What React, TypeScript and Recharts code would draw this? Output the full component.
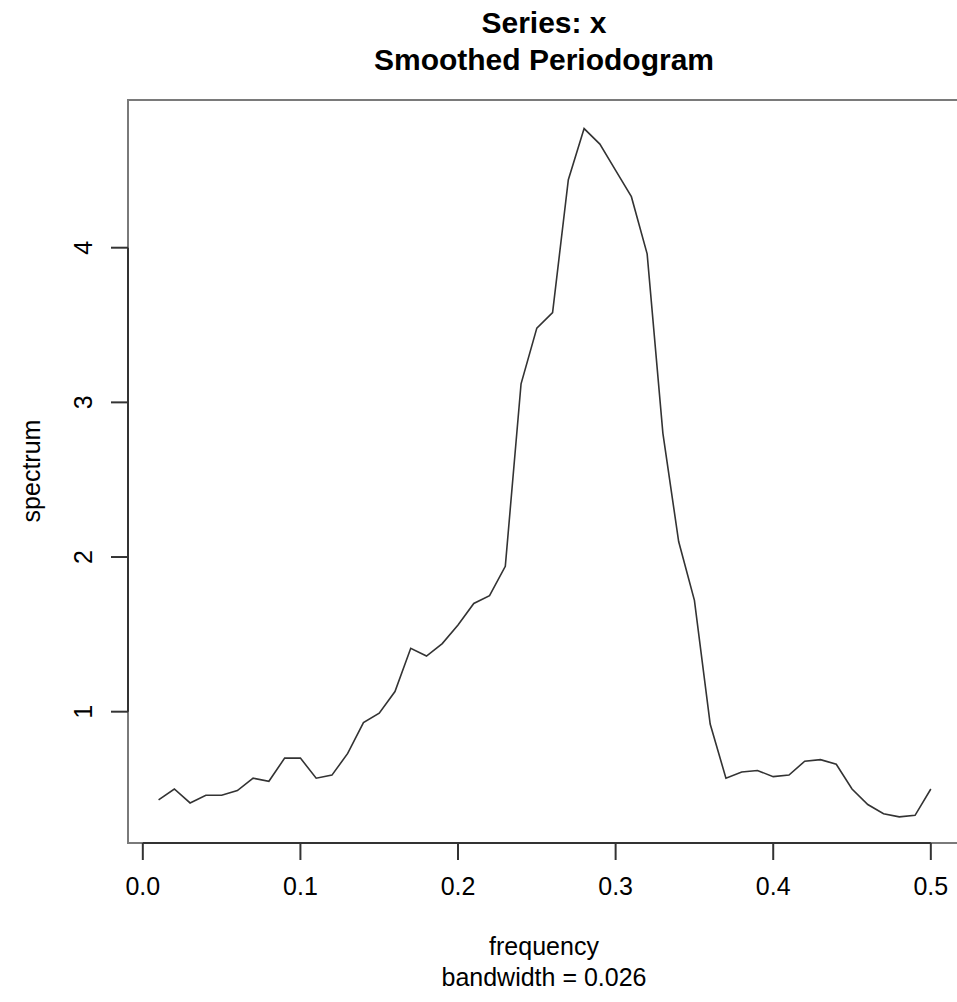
import React from 'react';
import {
  LineChart,
  Line,
  XAxis,
  YAxis,
  ReferenceArea,
  ReferenceLine,
} from 'recharts';

// smoothed periodogram values
const frequency = [
  0.01, 0.02, 0.03, 0.04, 0.05, 0.06, 0.07, 0.08, 0.09, 0.1,
  0.11, 0.12, 0.13, 0.14, 0.15, 0.16, 0.17, 0.18, 0.19, 0.2,
  0.21, 0.22, 0.23, 0.24, 0.25, 0.26, 0.27, 0.28, 0.29, 0.3,
  0.31, 0.32, 0.33, 0.34, 0.35, 0.36, 0.37, 0.38, 0.39, 0.4,
  0.41, 0.42, 0.43, 0.44, 0.45, 0.46, 0.47, 0.48, 0.49, 0.5,
];
const spectrum = [
  0.43, 0.5, 0.41, 0.46, 0.46, 0.49, 0.57, 0.55, 0.7, 0.7,
  0.57, 0.59, 0.73, 0.93, 0.99, 1.13, 1.41, 1.36, 1.44, 1.56,
  1.7, 1.75, 1.94, 3.12, 3.48, 3.58, 4.44, 4.77, 4.67, 4.5,
  4.33, 3.96, 2.8, 2.1, 1.72, 0.92, 0.57, 0.61, 0.62, 0.58,
  0.59, 0.68, 0.69, 0.66, 0.5, 0.4, 0.34, 0.32, 0.33, 0.5,
];

const xTicks = [0, 0.1, 0.2, 0.3, 0.4, 0.5];
const yTicks = [1, 2, 3, 4];
const xDomain: [number, number] = [-0.0094, 0.5194];
const yDomain: [number, number] = [0.151, 4.955];

const data = frequency.map((f, i) => ({ freq: f, spec: spectrum[i] }));

const FONT = 'Liberation Sans, Arial, Helvetica, sans-serif';

const XTick = (props: any) => {
  const { x, y, payload } = props;
  return (
    <text x={x} y={y + 35} textAnchor="middle" fontSize={25} fontFamily={FONT} fill="#000">
      {Number(payload.value).toFixed(1)}
    </text>
  );
};

const YTick = (props: any) => {
  const { x, y, payload } = props;
  const bx = x - 17;
  return (
    <text
      x={bx}
      y={y}
      transform={`rotate(-90, ${bx}, ${y})`}
      textAnchor="middle"
      fontSize={25}
      fontFamily={FONT}
      fill="#000"
    >
      {payload.value}
    </text>
  );
};

export default function App() {
  return (
    <div
      style={{
        position: 'absolute',
        left: 0,
        top: 0,
        width: 957,
        height: 1002,
        overflow: 'hidden',
        background: '#fff',
      }}
    >
      <LineChart
        width={970}
        height={1002}
        data={data}
        margin={{ top: 100, right: 8.6, left: 48, bottom: 99 }}
      >
        <XAxis
          dataKey="freq"
          type="number"
          domain={xDomain}
          ticks={xTicks}
          allowDataOverflow
          height={60}
          tickSize={17}
          tickMargin={0}
          axisLine={false}
          tickLine={{ stroke: '#333', strokeWidth: 2 }}
          tick={<XTick />}
        />
        <YAxis
          type="number"
          domain={yDomain}
          ticks={yTicks}
          allowDataOverflow
          width={80}
          tickSize={17}
          tickMargin={2}
          axisLine={false}
          tickLine={{ stroke: '#333', strokeWidth: 2 }}
          tick={<YTick />}
        />
        {/* plot frame */}
        <ReferenceArea
          x1={xDomain[0]}
          x2={xDomain[1]}
          y1={yDomain[0]}
          y2={yDomain[1]}
          fill="none"
          stroke="#7a7a7a"
          strokeWidth={2}
        />
        {/* R style axis lines, only between first and last tick */}
        <ReferenceLine
          segment={[
            { x: xTicks[0], y: yDomain[0] },
            { x: xTicks[xTicks.length - 1], y: yDomain[0] },
          ]}
          stroke="#333"
          strokeWidth={2}
        />
        <ReferenceLine
          segment={[
            { x: xDomain[0], y: yTicks[0] },
            { x: xDomain[0], y: yTicks[yTicks.length - 1] },
          ]}
          stroke="#333"
          strokeWidth={2}
        />
        <Line
          type="linear"
          dataKey="spec"
          stroke="#333"
          strokeWidth={1.6}
          dot={false}
          isAnimationActive={false}
        />
      </LineChart>
      <svg
        width={957}
        height={1002}
        style={{ position: 'absolute', left: 0, top: 0, pointerEvents: 'none' }}
      >
        <text x={544} y={33} textAnchor="middle" fontSize={30} fontWeight="bold" fontFamily={FONT}>
          Series: x
        </text>
        <text x={544} y={70} textAnchor="middle" fontSize={30} fontWeight="bold" fontFamily={FONT}>
          Smoothed Periodogram
        </text>
        <text x={544} y={955} textAnchor="middle" fontSize={25} fontFamily={FONT}>
          frequency
        </text>
        <text x={544} y={986} textAnchor="middle" fontSize={25} fontFamily={FONT}>
          bandwidth = 0.026
        </text>
        <text
          x={40}
          y={471}
          transform="rotate(-90, 40, 471)"
          textAnchor="middle"
          fontSize={25}
          fontFamily={FONT}
        >
          spectrum
        </text>
      </svg>
    </div>
  );
}
